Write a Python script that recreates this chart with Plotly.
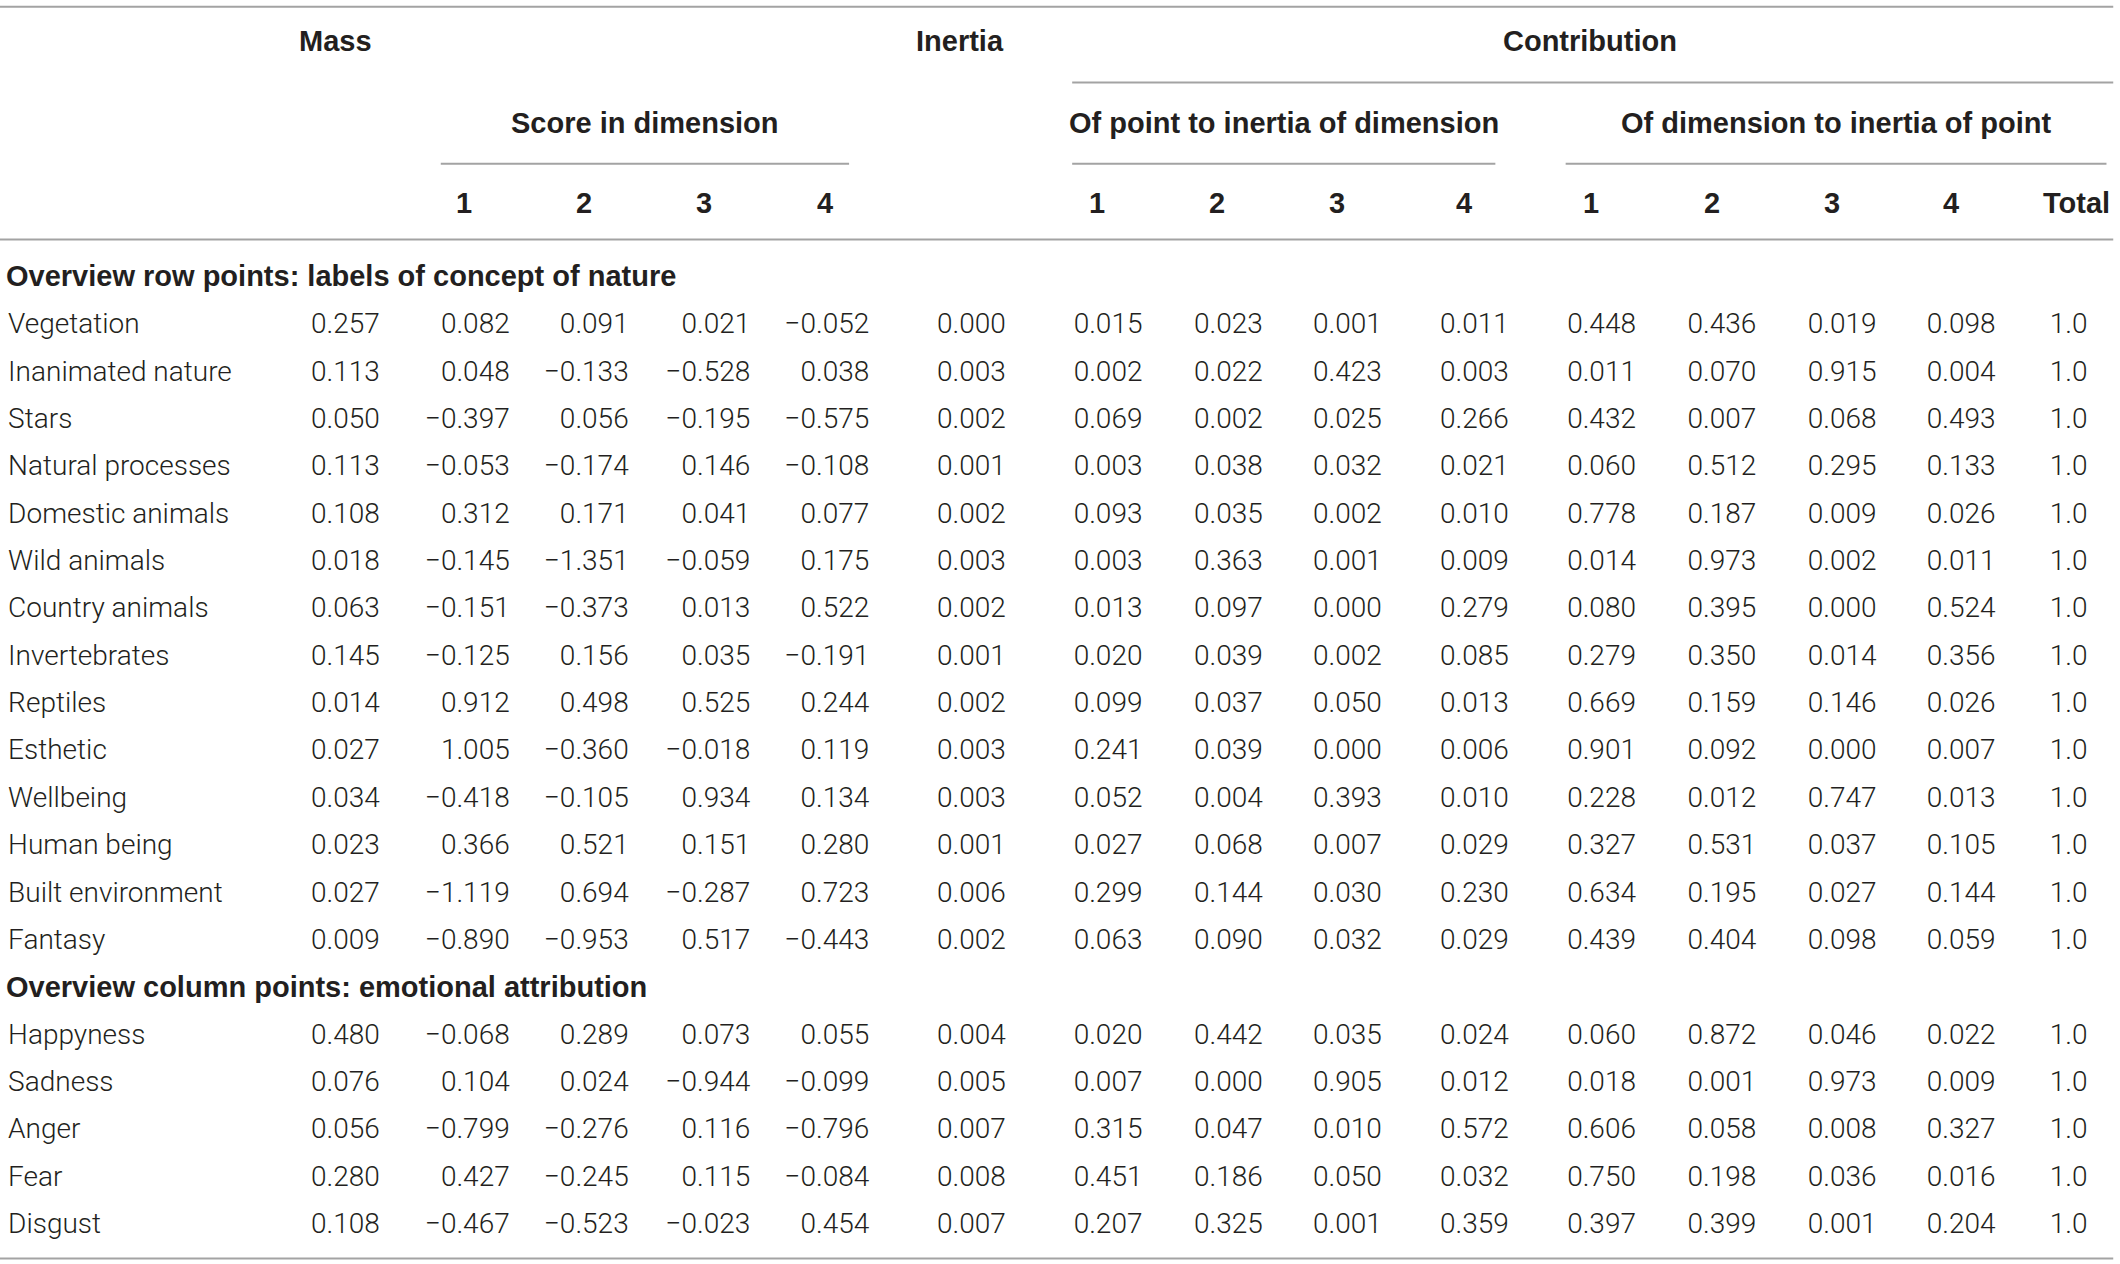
import plotly.graph_objects as go

# row and column points of the correspondence analysis
row_labels = ["Vegetation", "Inanimated nature", "Stars", "Natural processes",
              "Domestic animals", "Wild animals", "Country animals", "Invertebrates",
              "Reptiles", "Esthetic", "Wellbeing", "Human being", "Built environment",
              "Fantasy"]
col_labels = ["Happyness", "Sadness", "Anger", "Fear", "Disgust"]

mass = [0.257, 0.113, 0.050, 0.113, 0.108, 0.018, 0.063, 0.145, 0.014, 0.027, 0.034, 0.023, 0.027, 0.009,
        0.480, 0.076, 0.056, 0.280, 0.108]
score1 = [0.082, 0.048, -0.397, -0.053, 0.312, -0.145, -0.151, -0.125, 0.912, 1.005, -0.418, 0.366, -1.119, -0.890,
          -0.068, 0.104, -0.799, 0.427, -0.467]
score2 = [0.091, -0.133, 0.056, -0.174, 0.171, -1.351, -0.373, 0.156, 0.498, -0.360, -0.105, 0.521, 0.694, -0.953,
          0.289, 0.024, -0.276, -0.245, -0.523]
score3 = [0.021, -0.528, -0.195, 0.146, 0.041, -0.059, 0.013, 0.035, 0.525, -0.018, 0.934, 0.151, -0.287, 0.517,
          0.073, -0.944, 0.116, 0.115, -0.023]
score4 = [-0.052, 0.038, -0.575, -0.108, 0.077, 0.175, 0.522, -0.191, 0.244, 0.119, 0.134, 0.280, 0.723, -0.443,
          0.055, -0.099, -0.796, -0.084, 0.454]
inertia = [0.000, 0.003, 0.002, 0.001, 0.002, 0.003, 0.002, 0.001, 0.002, 0.003, 0.003, 0.001, 0.006, 0.002,
           0.004, 0.005, 0.007, 0.008, 0.007]
point1 = [0.015, 0.002, 0.069, 0.003, 0.093, 0.003, 0.013, 0.020, 0.099, 0.241, 0.052, 0.027, 0.299, 0.063,
          0.020, 0.007, 0.315, 0.451, 0.207]
point2 = [0.023, 0.022, 0.002, 0.038, 0.035, 0.363, 0.097, 0.039, 0.037, 0.039, 0.004, 0.068, 0.144, 0.090,
          0.442, 0.000, 0.047, 0.186, 0.325]
point3 = [0.001, 0.423, 0.025, 0.032, 0.002, 0.001, 0.000, 0.002, 0.050, 0.000, 0.393, 0.007, 0.030, 0.032,
          0.035, 0.905, 0.010, 0.050, 0.001]
point4 = [0.011, 0.003, 0.266, 0.021, 0.010, 0.009, 0.279, 0.085, 0.013, 0.006, 0.010, 0.029, 0.230, 0.029,
          0.024, 0.012, 0.572, 0.032, 0.359]
dim1 = [0.448, 0.011, 0.432, 0.060, 0.778, 0.014, 0.080, 0.279, 0.669, 0.901, 0.228, 0.327, 0.634, 0.439,
        0.060, 0.018, 0.606, 0.750, 0.397]
dim2 = [0.436, 0.070, 0.007, 0.512, 0.187, 0.973, 0.395, 0.350, 0.159, 0.092, 0.012, 0.531, 0.195, 0.404,
        0.872, 0.001, 0.058, 0.198, 0.399]
dim3 = [0.019, 0.915, 0.068, 0.295, 0.009, 0.002, 0.000, 0.014, 0.146, 0.000, 0.747, 0.037, 0.027, 0.098,
        0.046, 0.973, 0.008, 0.036, 0.001]
dim4 = [0.098, 0.004, 0.493, 0.133, 0.026, 0.011, 0.524, 0.356, 0.026, 0.007, 0.013, 0.105, 0.144, 0.059,
        0.022, 0.009, 0.327, 0.016, 0.204]
total = [1.0, 1.0, 1.0, 1.0, 1.0, 1.0, 1.0, 1.0, 1.0, 1.0, 1.0, 1.0, 1.0, 1.0,
         1.0, 1.0, 1.0, 1.0, 1.0]

sections = ["Overview row points: labels of concept of nature",
            "Overview column points: emotional attribution"]
dim_ticks = ["1", "2", "3", "4"]

# layout (in reference units, axis range 0..1568 x 0..934)
TEXT = "#231f20"
RULE = "#a3a3a3"
BODY = dict(family="Roboto, Liberation Sans, Arial", size=28, color=TEXT, weight=300)
BOLD = dict(family="Liberation Sans, Arial", size=29, color=TEXT, weight=700)
ROW_Y0, ROW_STEP = 241, 35
SEC_Y = [204, 729]
LABEL_X = 6

columns = [
    (mass, 281, 3), (score1, 377, 3), (score2, 465, 3), (score3, 555, 3), (score4, 643, 3),
    (inertia, 744, 3),
    (point1, 845, 3), (point2, 934, 3), (point3, 1022, 3), (point4, 1116, 3),
    (dim1, 1210, 3), (dim2, 1299, 3), (dim3, 1388, 3), (dim4, 1476, 3),
    (total, 1544, 1),
]

labels = row_labels + col_labels
# second section starts one row lower (its title takes a row)
row_y = [ROW_Y0 + ROW_STEP * i for i in range(len(row_labels))] + \
        [ROW_Y0 + ROW_STEP * (i + len(row_labels) + 1) for i in range(len(col_labels))]


def fmt(v, d):
    return f"{v:.{d}f}".replace("-", "\u2212")


fig = go.Figure()

fig.add_trace(go.Scatter(x=[LABEL_X] * len(labels), y=row_y, text=labels, mode="text",
                         textposition="middle right", textfont=BODY, hoverinfo="skip"))

for vals, xr, d in columns:
    fig.add_trace(go.Scatter(x=[xr] * len(vals), y=row_y, text=[fmt(v, d) for v in vals],
                             mode="text", textposition="middle left", textfont=BODY,
                             hoverinfo="skip"))

annotations = []


def head(txt, x, y, anchor="center"):
    annotations.append(dict(text=txt, x=x, y=y, xref="x", yref="y", showarrow=False,
                            xanchor=anchor, yanchor="middle", font=BOLD))


head("Mass", 248, 30)
head("Inertia", 710, 30)
head("Contribution", 1176, 30)
head("Score in dimension", 477, 91)
head("Of point to inertia of dimension", 950, 91)
head("Of dimension to inertia of point", 1358, 91)
for t, x in zip(dim_ticks, [343, 432, 521, 610]):
    head(t, x, 150)
for t, x in zip(dim_ticks, [811, 900, 989, 1083]):
    head(t, x, 150)
for t, x in zip(dim_ticks, [1177, 1266, 1355, 1443]):
    head(t, x, 150)
head("Total", 1536, 150)
for s, y in zip(sections, SEC_Y):
    head(s, 3, y, anchor="left")

rules = [(0, 1563, 5), (793, 1563, 61), (326, 628, 121), (793, 1106, 121),
         (1158, 1558, 121), (0, 1563, 177), (0, 1563, 930)]
shapes = [dict(type="line", xref="x", yref="y", x0=a, x1=b, y0=y, y1=y,
               line=dict(color=RULE, width=2)) for a, b, y in rules]

fig.update_layout(
    width=2120, height=1264,
    margin=dict(l=0, r=0, t=0, b=0),
    paper_bgcolor="white", plot_bgcolor="white",
    showlegend=False,
    annotations=annotations, shapes=shapes,
    xaxis=dict(range=[0, 1568], visible=False, fixedrange=True),
    yaxis=dict(range=[934, 0], visible=False, fixedrange=True),
)

fig.write_html("out.html", config={"displayModeBar": False},
               post_script="document.body.style.margin='0';")
